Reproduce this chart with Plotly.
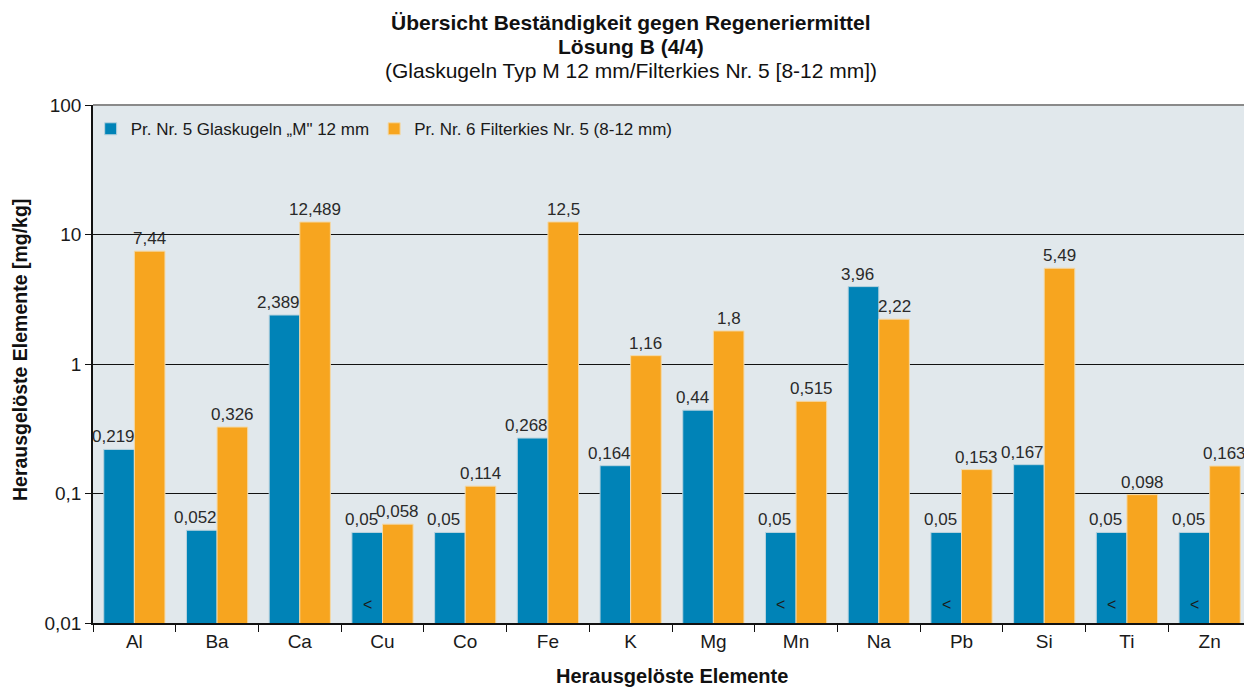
import math
import plotly.graph_objects as go

categories = ["Al", "Ba", "Ca", "Cu", "Co", "Fe", "K", "Mg", "Mn", "Na", "Pb", "Si", "Ti", "Zn"]
glaskugeln = [0.219, 0.052, 2.389, 0.05, 0.05, 0.268, 0.164, 0.44, 0.05, 3.96, 0.05, 0.167, 0.05, 0.05]
glaskugeln_labels = ["0,219", "0,052", "2,389", "0,05", "0,05", "0,268", "0,164", "0,44", "0,05", "3,96", "0,05", "0,167", "0,05", "0,05"]
filterkies = [7.44, 0.326, 12.489, 0.058, 0.114, 12.5, 1.16, 1.8, 0.515, 2.22, 0.153, 5.49, 0.098, 0.163]
filterkies_labels = ["7,44", "0,326", "12,489", "0,058", "0,114", "12,5", "1,16", "1,8", "0,515", "2,22", "0,153", "5,49", "0,098", "0,163"]
below_limit = ["Cu", "Mn", "Pb", "Ti", "Zn"]
y_tickvals = [0.01, 0.1, 1, 10, 100]
y_ticktext = ["0,01", "0,1", "1", "10", "100"]

BLUE = "#0083b7"
ORANGE = "#f7a51f"
FONT = "Liberation Sans"
TXT = "#1a1a1a"

# figure geometry (page body has an 8px margin)
W, H = 1244, 681
ML, MR, MT, MB = 85, 1, 97, 66
PH = H - MT - MB
PW = W - ML - MR
BARGAP = 0.26
HALF = PW / len(categories) * (1 - BARGAP) / 4  # offset of each bar centre from the category centre


def py(page_y):
    return 1 - ((page_y - 8) - MT) / PH


def px(page_x):
    return ((page_x - 8) - ML) / PW


fig = go.Figure()
fig.add_trace(go.Bar(
    x=categories, y=glaskugeln, name="Pr. Nr. 5 Glaskugeln „M\" 12 mm",
    marker=dict(color=BLUE, line=dict(color="#b9d3de", width=1)),
))
fig.add_trace(go.Bar(
    x=categories, y=filterkies, name="Pr. Nr. 6 Filterkies Nr. 5 (8-12 mm)",
    marker=dict(color=ORANGE, line=dict(color="#f3d9a8", width=1)),
))

annotations = []
for c, v, t in zip(categories, glaskugeln, glaskugeln_labels):
    annotations.append(dict(x=c, y=math.log10(v), xref="x", yref="y", text=t, showarrow=False,
                            xshift=-HALF - 6, yanchor="bottom", yshift=1,
                            font=dict(size=17, color="#2a2a2a", family=FONT)))
for c, v, t in zip(categories, filterkies, filterkies_labels):
    annotations.append(dict(x=c, y=math.log10(v), xref="x", yref="y", text=t, showarrow=False,
                            xshift=HALF, yanchor="bottom", yshift=1,
                            font=dict(size=17, color="#2a2a2a", family=FONT)))
for c in below_limit:
    annotations.append(dict(x=c, y=-1.86, xref="x", yref="y", text="<", showarrow=False,
                            xshift=-HALF, font=dict(size=16, color=TXT, family=FONT)))

tx = px(631)
annotations += [
    dict(x=tx, y=py(22), xref="paper", yref="paper", xanchor="center", yanchor="middle",
         text="<b>Übersicht Beständigkeit gegen Regeneriermittel</b>", showarrow=False,
         font=dict(size=21, color="#111", family=FONT)),
    dict(x=tx, y=py(46), xref="paper", yref="paper", xanchor="center", yanchor="middle",
         text="<b>Lösung B (4/4)</b>", showarrow=False,
         font=dict(size=21, color="#111", family=FONT)),
    dict(x=tx, y=py(71), xref="paper", yref="paper", xanchor="center", yanchor="middle",
         text="(Glaskugeln Typ M 12 mm/Filterkies Nr. 5 [8-12 mm])", showarrow=False,
         font=dict(size=21, color="#111", family=FONT)),
    dict(x=px(672), y=py(676), xref="paper", yref="paper", xanchor="center", yanchor="middle",
         text="<b>Herausgelöste Elemente</b>", showarrow=False,
         font=dict(size=20, color="#111", family=FONT)),
    dict(x=px(20), y=py(350), xref="paper", yref="paper", xanchor="center", yanchor="middle",
         text="<b>Herausgelöste Elemente [mg/kg]</b>", showarrow=False, textangle=-90,
         font=dict(size=19.5, color="#111", family=FONT)),
]

fig.update_layout(
    width=W, height=H,
    margin=dict(l=ML, r=MR, t=MT, b=MB, autoexpand=False),
    paper_bgcolor="white",
    plot_bgcolor="#e1e8ec",
    barmode="group",
    bargap=BARGAP,
    bargroupgap=0.0,
    font=dict(family=FONT, color=TXT),
    showlegend=True,
    annotations=annotations,
    legend=dict(orientation="h", x=-0.002, y=0.988, xanchor="left", yanchor="top",
                bgcolor="rgba(0,0,0,0)", font=dict(size=17, family=FONT, color=TXT),
                itemwidth=30, traceorder="normal"),
    xaxis=dict(
        type="category", range=[-0.5, len(categories) - 0.5], autorange=False,
        tickfont=dict(size=19, family=FONT, color=TXT),
        showline=True, linecolor="#111", linewidth=1.5,
        ticks="outside", ticklen=7, tickcolor="#111", tickson="boundaries",
        showgrid=False, automargin=False,
    ),
    yaxis=dict(
        type="log", range=[-2, 2],
        tickvals=y_tickvals, ticktext=y_ticktext,
        tickfont=dict(size=19, family=FONT, color=TXT),
        showline=True, linecolor="#111", linewidth=1.5,
        ticks="outside", ticklen=6, tickcolor="#111",
        showgrid=True, gridcolor="#111", gridwidth=1,
        zeroline=False, automargin=False,
    ),
)
fig.add_shape(type="line", xref="paper", yref="paper", x0=0, x1=1, y0=1, y1=1,
              line=dict(color="#8a8a8a", width=2))

fig.write_html("out.html")
